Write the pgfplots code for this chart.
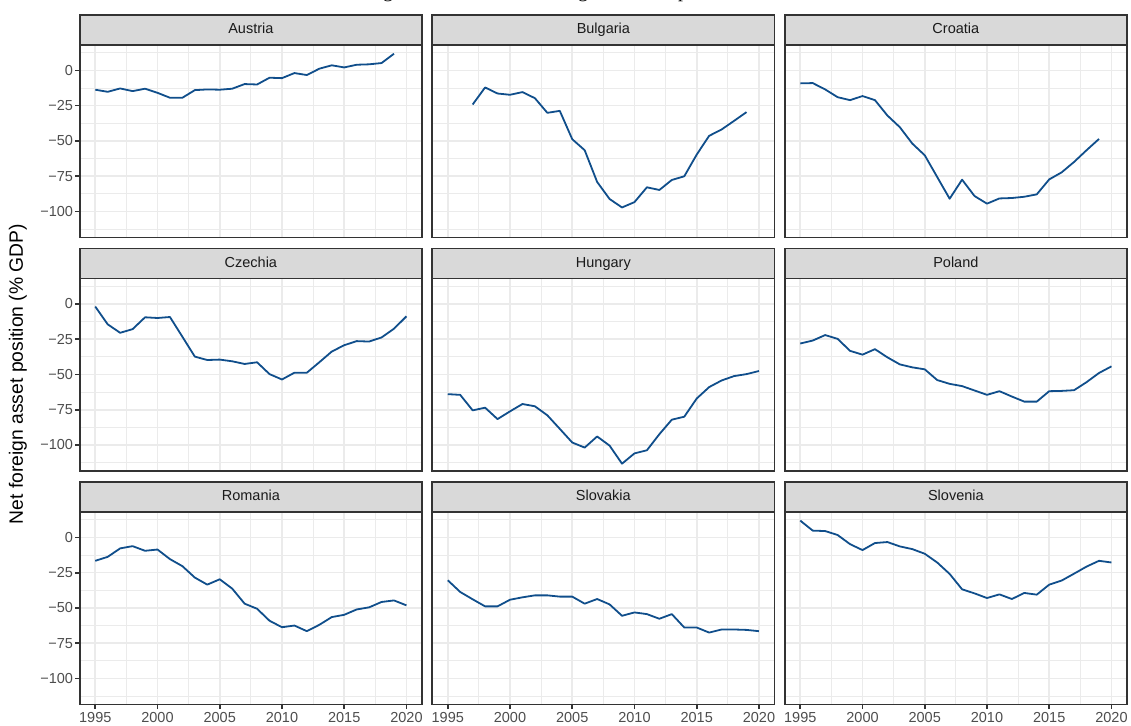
\documentclass[border=0pt]{standalone}
\usepackage{fontspec}
\setmainfont{Liberation Sans}
\newfontfamily\titlefont{Liberation Serif}
\usepackage{pgfplots}
\pgfplotsset{compat=1.18}
\usepackage{pgfplotstable}

\definecolor{grey10}{HTML}{1A1A1A}
\definecolor{grey20}{HTML}{333333}
\definecolor{grey30}{HTML}{4D4D4D}
\definecolor{grey85}{HTML}{D9D9D9}
\definecolor{grey92}{HTML}{EBEBEB}
\definecolor{lineblue}{HTML}{104E8B}

% Net foreign asset position, % of GDP
\pgfplotstableread{
year nfa
1995 -13.7
1996 -15.2
1997 -12.8
1998 -14.7
1999 -13.0
2000 -15.9
2001 -19.4
2002 -19.4
2003 -14.0
2004 -13.5
2005 -13.7
2006 -13.0
2007 -9.7
2008 -10.0
2009 -5.2
2010 -5.5
2011 -1.9
2012 -3.3
2013 1.2
2014 3.6
2015 2.1
2016 4.0
2017 4.3
2018 5.2
2019 11.8
}\austria
\pgfplotstableread{
year nfa
1997 -24.2
1998 -12.1
1999 -16.4
2000 -17.3
2001 -15.4
2002 -19.7
2003 -30.1
2004 -28.7
2005 -48.8
2006 -56.6
2007 -79.1
2008 -91.2
2009 -97.2
2010 -93.4
2011 -82.9
2012 -84.8
2013 -77.7
2014 -75.1
2015 -59.7
2016 -46.4
2017 -41.9
2018 -35.8
2019 -29.6
}\bulgaria
\pgfplotstableread{
year nfa
1995 -9.2
1996 -9.0
1997 -13.5
1998 -19.0
1999 -21.1
2000 -18.2
2001 -21.1
2002 -32.0
2003 -40.3
2004 -51.9
2005 -60.2
2006 -75.6
2007 -91.0
2008 -77.5
2009 -89.1
2010 -94.5
2011 -90.8
2012 -90.5
2013 -89.6
2014 -87.9
2015 -77.3
2016 -72.3
2017 -64.9
2018 -56.6
2019 -48.6
}\croatia
\pgfplotstableread{
year nfa
1995 -1.9
1996 -14.5
1997 -20.5
1998 -17.9
1999 -9.5
2000 -10.0
2001 -9.3
2002 -23.3
2003 -37.4
2004 -39.8
2005 -39.5
2006 -40.7
2007 -42.6
2008 -41.4
2009 -49.8
2010 -53.6
2011 -48.8
2012 -48.8
2013 -41.4
2014 -33.8
2015 -29.3
2016 -26.4
2017 -26.7
2018 -23.8
2019 -17.6
2020 -8.8
}\czechia
\pgfplotstableread{
year nfa
1995 -64.0
1996 -64.5
1997 -75.5
1998 -73.6
1999 -81.7
2000 -76.2
2001 -71.0
2002 -72.6
2003 -79.0
2004 -88.6
2005 -98.3
2006 -101.9
2007 -94.0
2008 -100.5
2009 -113.3
2010 -106.0
2011 -103.8
2012 -92.4
2013 -82.1
2014 -80.0
2015 -67.1
2016 -59.0
2017 -54.3
2018 -51.2
2019 -49.8
2020 -47.6
}\hungary
\pgfplotstableread{
year nfa
1995 -28.1
1996 -26.0
1997 -22.1
1998 -24.8
1999 -33.3
2000 -36.0
2001 -32.1
2002 -37.9
2003 -42.9
2004 -45.0
2005 -46.4
2006 -54.0
2007 -56.7
2008 -58.3
2009 -61.4
2010 -64.5
2011 -61.9
2012 -65.7
2013 -69.3
2014 -69.3
2015 -61.9
2016 -61.7
2017 -61.2
2018 -55.5
2019 -49.0
2020 -44.3
}\poland
\pgfplotstableread{
year nfa
1995 -16.6
1996 -13.8
1997 -7.8
1998 -6.2
1999 -9.5
2000 -8.6
2001 -15.4
2002 -20.4
2003 -28.5
2004 -33.5
2005 -29.7
2006 -36.3
2007 -47.0
2008 -50.6
2009 -59.1
2010 -63.7
2011 -62.5
2012 -66.5
2013 -62.0
2014 -56.5
2015 -54.9
2016 -51.1
2017 -49.6
2018 -45.8
2019 -44.7
2020 -48.2
}\romania
\pgfplotstableread{
year nfa
1995 -30.4
1996 -38.7
1997 -43.9
1998 -48.9
1999 -48.9
2000 -44.2
2001 -42.5
2002 -41.1
2003 -41.1
2004 -42.0
2005 -42.0
2006 -47.0
2007 -43.7
2008 -47.5
2009 -55.6
2010 -53.2
2011 -54.4
2012 -57.7
2013 -54.4
2014 -63.9
2015 -63.9
2016 -67.5
2017 -65.3
2018 -65.3
2019 -65.6
2020 -66.5
}\slovakia
\pgfplotstableread{
year nfa
1995 11.9
1996 4.8
1997 4.5
1998 1.7
1999 -4.8
2000 -9.0
2001 -4.0
2002 -3.3
2003 -6.4
2004 -8.3
2005 -11.6
2006 -17.8
2007 -25.9
2008 -36.8
2009 -39.7
2010 -43.0
2011 -40.4
2012 -43.7
2013 -39.4
2014 -40.6
2015 -33.5
2016 -30.6
2017 -25.7
2018 -20.7
2019 -16.6
2020 -17.8
}\slovenia

\pgfplotsset{
  panelbox/.style={
    scale only axis, width=342.3pt, height=192.5pt,
    xmin=1993.75, xmax=2021.25, ymin=-118.5, ymax=18,
  },
  facet/.style={
    panelbox,
    xtick={1995,2000,...,2020}, ytick={-100,-75,...,0},
    minor xtick={1997.5,2002.5,...,2017.5},
    minor ytick={-112.5,-87.5,...,12.5},
    xticklabels={}, yticklabels={},
    major tick length=0pt, minor tick length=0pt,
    grid=both,
    major grid style={draw=grey92, line width=1.7pt},
    minor grid style={draw=grey92, line width=0.85pt},
    axis line style={draw=grey20, line width=1.7pt},
  },
  tickaxis/.style={
    panelbox,
    axis line style={draw=none},
    grid=none,
    tick align=outside,
    major tick length=4.5pt, minor tick length=0pt,
    tick style={draw=grey20, line width=1.7pt},
    xtick pos=left, ytick pos=left,
    tick label style={text=grey30, font=\fontsize{14.5pt}{17pt}\selectfont, inner sep=0pt},
    yticklabel style={xshift=-2pt},
    xticklabel style={yshift=-3pt},
  },
  xbottom/.style={xtick={1995,2000,...,2020}, xticklabels={1995,2000,2005,2010,2015,2020}},
  yleft/.style={ytick={-100,-75,...,0}, yticklabels={−100,−75,−50,−25,0}},
}
\tikzset{
  strip/.style={draw=grey20, fill=grey85, line width=1.7pt, outer sep=0pt, inner sep=0pt,
    minimum width=342.3pt, minimum height=30pt, anchor=south west, text=grey10,
    text height=10.4pt, text depth=3.1pt,
    font=\fontsize{14.5pt}{17pt}\selectfont},
}

\newcommand{\facet}[4]{%
  \begin{axis}[facet, at={(#1pt,#2pt)}, anchor=north west]
    \addplot[draw=lineblue, line width=1.8pt, line join=round, mark=none] table[x=year, y=nfa] {#3};
  \end{axis}
  \node[strip] at (#1pt,#2pt) {#4};
}

\begin{document}
\begin{tikzpicture}
\useasboundingbox (0,0) rectangle (1131pt,-725pt);

% heading, mostly above the page edge
\node[anchor=base west, inner sep=0pt, font=\titlefont\fontsize{20pt}{24pt}\selectfont]
  at (339.7pt,2.3pt) {Strong decline in the net foreign financial position};

\facet{79.7}{-45}{\austria}{Austria}
\facet{432.2}{-45}{\bulgaria}{Bulgaria}
\facet{784.7}{-45}{\croatia}{Croatia}
\facet{79.7}{-278.5}{\czechia}{Czechia}
\facet{432.2}{-278.5}{\hungary}{Hungary}
\facet{784.7}{-278.5}{\poland}{Poland}
\facet{79.7}{-512}{\romania}{Romania}
\facet{432.2}{-512}{\slovakia}{Slovakia}
\facet{784.7}{-512}{\slovenia}{Slovenia}

% outer axes: ticks and labels
\begin{axis}[tickaxis, yleft, xtick=\empty, at={(79.7pt,-45pt)}, anchor=north west]\end{axis}
\begin{axis}[tickaxis, yleft, xtick=\empty, at={(79.7pt,-278.5pt)}, anchor=north west]\end{axis}
\begin{axis}[tickaxis, yleft, xbottom, at={(79.7pt,-512pt)}, anchor=north west]\end{axis}
\begin{axis}[tickaxis, xbottom, ytick=\empty, at={(432.2pt,-512pt)}, anchor=north west]\end{axis}
\begin{axis}[tickaxis, xbottom, ytick=\empty, at={(784.7pt,-512pt)}, anchor=north west]\end{axis}

\node[rotate=90, inner sep=0pt, font=\fontsize{19.3pt}{23pt}\selectfont]
  at (18pt,-374pt) {Net foreign asset position (\% GDP)};
\end{tikzpicture}
\end{document}
